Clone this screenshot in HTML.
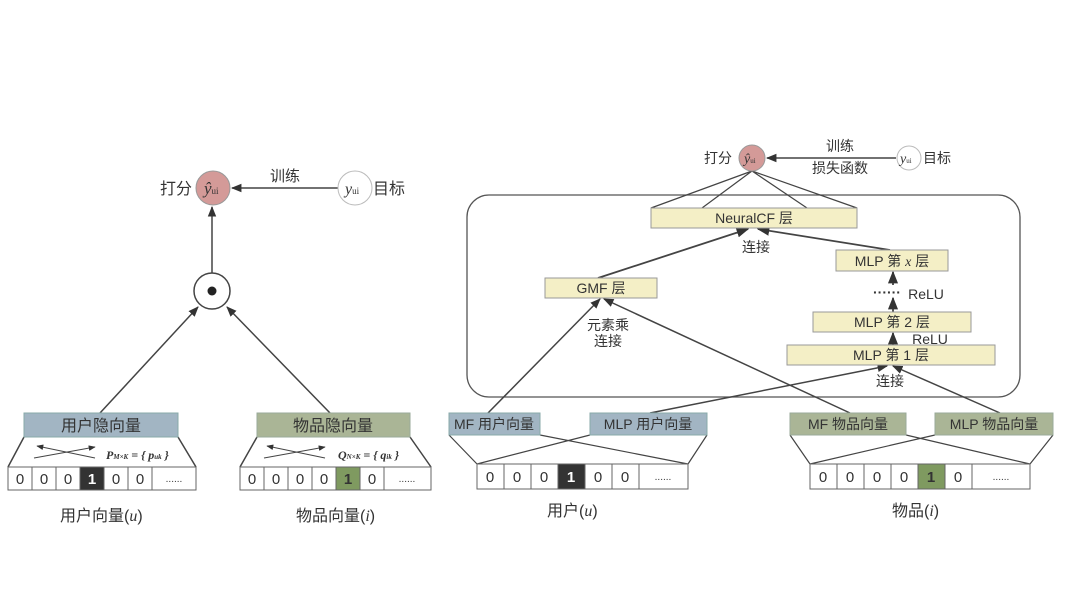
<!DOCTYPE html>
<html><head><meta charset="utf-8"><style>
html,body{margin:0;padding:0;background:#fff;}
svg{display:block;}
text{font-family:"Liberation Sans","Noto Sans CJK SC",sans-serif;fill:#333;}
.s{font-family:"Liberation Serif","Noto Serif CJK SC",serif;font-style:italic;}
</style></head><body>
<svg width="1080" height="608" viewBox="0 0 1080 608" xmlns="http://www.w3.org/2000/svg">
<defs>
<marker id="a" viewBox="0 0 10 10" refX="9" refY="5" markerWidth="7" markerHeight="7" orient="auto-start-reverse"><path d="M0,1 L10,5 L0,9 z" fill="#333"/></marker>
</defs>
<g stroke="#444" stroke-width="1.5" fill="none">
<!-- LEFT -->
<line x1="338" y1="188" x2="232" y2="188" marker-end="url(#a)"/>
<line x1="212" y1="273" x2="212" y2="207" marker-end="url(#a)"/>
<line x1="100" y1="413" x2="198" y2="307" marker-end="url(#a)"/>
<line x1="330" y1="413" x2="227" y2="307" marker-end="url(#a)"/>
<path d="M24,437 L8,467 M178,437 L196,467"/>
<path d="M240,467 L257,437 M410,437 L431,467"/>
<line x1="34" y1="458" x2="95" y2="447" stroke-width="1" marker-end="url(#a)"/>
<line x1="95" y1="458" x2="37" y2="446" stroke-width="1" marker-end="url(#a)"/>
<line x1="264" y1="458" x2="325" y2="447" stroke-width="1" marker-end="url(#a)"/>
<line x1="325" y1="458" x2="267" y2="446" stroke-width="1" marker-end="url(#a)"/>
</g>
<circle cx="213" cy="188" r="17" fill="#d49a98" stroke="#999"/>
<circle cx="355" cy="188" r="17" fill="#fff" stroke="#bbb"/>
<circle cx="212" cy="291" r="18" fill="#fff" stroke="#444" stroke-width="1.5"/>
<circle cx="212" cy="291" r="4.5" fill="#222"/>
<text x="160" y="194" font-size="16">打分</text>
<text x="204" y="194" font-size="17" class="s">ŷ<tspan font-size="9" font-style="normal">ui</tspan></text>
<text x="270" y="181" font-size="15">训练</text>
<text x="345" y="194" font-size="16" class="s">y<tspan font-size="9" font-style="normal">ui</tspan></text>
<text x="373" y="194" font-size="16">目标</text>
<rect x="24" y="413" width="154" height="24" fill="#a2b5c3" stroke="#8aa"/>
<text x="101" y="431" font-size="16" text-anchor="middle">用户隐向量</text>
<rect x="257" y="413" width="153" height="24" fill="#aab596" stroke="#9a9"/>
<text x="333" y="431" font-size="16" text-anchor="middle">物品隐向量</text>
<text x="106" y="459" font-size="12" class="s" font-weight="bold">P<tspan font-size="7">M×K</tspan> = { p<tspan font-size="7">uk</tspan> }</text>
<text x="338" y="459" font-size="12" class="s" font-weight="bold">Q<tspan font-size="7">N×K</tspan> = { q<tspan font-size="7">ik</tspan> }</text>
<g stroke="#666" stroke-width="1" fill="#fff">
<rect x="8" y="467" width="188" height="23"/>
<rect x="80" y="467" width="24" height="23" fill="#333"/>
<path d="M32,467V490M56,467V490M128,467V490M152,467V490"/>
<rect x="240" y="467" width="191" height="23"/>
<rect x="336" y="467" width="24" height="23" fill="#7f9a60"/>
<path d="M264,467V490M288,467V490M312,467V490M384,467V490"/>
</g>
<g font-size="15" text-anchor="middle">
<text x="20" y="484">0</text><text x="44" y="484">0</text><text x="68" y="484">0</text><text x="92" y="484" style="fill:#fff;font-weight:bold">1</text><text x="116" y="484">0</text><text x="140" y="484">0</text><text x="174" y="482" font-size="10">......</text>
<text x="252" y="484">0</text><text x="276" y="484">0</text><text x="300" y="484">0</text><text x="324" y="484">0</text><text x="348" y="484" style="font-weight:bold">1</text><text x="372" y="484">0</text><text x="407" y="482" font-size="10">......</text>
</g>
<text x="60" y="521" font-size="16">用户向量(<tspan class="s">u</tspan>)</text>
<text x="296" y="521" font-size="16">物品向量(<tspan class="s">i</tspan>)</text>

<!-- RIGHT -->
<rect x="467" y="195" width="553" height="202" rx="22" fill="none" stroke="#555" stroke-width="1.3"/>
<g stroke="#444" stroke-width="1.2" fill="none">
<path d="M752,171 L651,208 M752,171 L702,208 M752,171 L807,208 M752,171 L857,208"/>
<line x1="896" y1="158" x2="767" y2="158" stroke-width="1.5" marker-end="url(#a)"/>
<line x1="598" y1="278" x2="748" y2="229" stroke-width="1.8" marker-end="url(#a)"/>
<line x1="890" y1="250" x2="758" y2="229" stroke-width="1.8" marker-end="url(#a)"/>
<line x1="893" y1="285" x2="893" y2="272" stroke-width="1.8" marker-end="url(#a)"/>
<line x1="893" y1="312" x2="893" y2="298" stroke-width="1.8" marker-end="url(#a)"/>
<line x1="893" y1="345" x2="893" y2="333" stroke-width="1.8" marker-end="url(#a)"/>
<line x1="488" y1="413" x2="600" y2="299" stroke-width="1.5" marker-end="url(#a)"/>
<line x1="850" y1="413" x2="604" y2="299" stroke-width="1.5" marker-end="url(#a)"/>
<line x1="650" y1="413" x2="887" y2="366" stroke-width="1.5" marker-end="url(#a)"/>
<line x1="1000" y1="413" x2="893" y2="366" stroke-width="1.5" marker-end="url(#a)"/>
<path d="M449,435 L477,464 M540,435 L688,464 M590,435 L477,464 M707,435 L688,464"/>
<path d="M790,435 L810,464 M906,435 L1030,464 M935,435 L810,464 M1053,435 L1030,464"/>
</g>
<circle cx="752" cy="158" r="13" fill="#d49a98" stroke="#999"/>
<circle cx="909" cy="158" r="12" fill="#fff" stroke="#bbb"/>
<text x="704" y="163" font-size="14">打分</text>
<text x="744" y="163" font-size="14" class="s">ŷ<tspan font-size="7" font-style="normal">ui</tspan></text>
<text x="840" y="151" font-size="14" text-anchor="middle">训练</text>
<text x="840" y="173" font-size="14" text-anchor="middle">损失函数</text>
<text x="900" y="163" font-size="14" class="s">y<tspan font-size="7" font-style="normal">ui</tspan></text>
<text x="923" y="163" font-size="14">目标</text>
<g fill="#f4efc6" stroke="#999">
<rect x="651" y="208" width="206" height="20"/>
<rect x="545" y="278" width="112" height="20"/>
<rect x="836" y="250" width="112" height="21"/>
<rect x="813" y="312" width="158" height="20"/>
<rect x="787" y="345" width="208" height="20"/>
</g>
<g font-size="14" text-anchor="middle">
<text x="754" y="223">NeuralCF 层</text>
<text x="601" y="293">GMF 层</text>
<text x="892" y="266">MLP 第 <tspan class="s">x</tspan> 层</text>
<text x="892" y="327">MLP 第 2 层</text>
<text x="891" y="360">MLP 第 1 层</text>
<text x="756" y="252">连接</text>
<text x="608" y="330">元素乘</text>
<text x="608" y="346">连接</text>
<text x="890" y="386">连接</text>
<text x="926" y="299">ReLU</text>
<text x="930" y="344">ReLU</text>
</g>
<text x="873" y="297" font-size="14" font-weight="bold">······</text>
<rect x="449" y="413" width="91" height="22" fill="#a2b5c3" stroke="#8aa"/>
<rect x="590" y="413" width="117" height="22" fill="#a2b5c3" stroke="#8aa"/>
<rect x="790" y="413" width="116" height="22" fill="#aab596" stroke="#9a9"/>
<rect x="935" y="413" width="118" height="22" fill="#aab596" stroke="#9a9"/>
<g font-size="14" text-anchor="middle">
<text x="494" y="429">MF 用户向量</text>
<text x="648" y="429">MLP 用户向量</text>
<text x="848" y="429">MF 物品向量</text>
<text x="994" y="429">MLP 物品向量</text>
</g>
<g stroke="#666" stroke-width="1" fill="#fff">
<rect x="477" y="464" width="211" height="25"/>
<rect x="558" y="464" width="27" height="25" fill="#333"/>
<path d="M504,464V489M531,464V489M612,464V489M639,464V489"/>
<rect x="810" y="464" width="220" height="25"/>
<rect x="918" y="464" width="27" height="25" fill="#7f9a60"/>
<path d="M837,464V489M864,464V489M891,464V489M972,464V489"/>
</g>
<g font-size="15" text-anchor="middle">
<text x="490" y="482">0</text><text x="517" y="482">0</text><text x="544" y="482">0</text><text x="571" y="482" style="fill:#fff;font-weight:bold">1</text><text x="598" y="482">0</text><text x="625" y="482">0</text><text x="663" y="480" font-size="10">......</text>
<text x="823" y="482">0</text><text x="850" y="482">0</text><text x="877" y="482">0</text><text x="904" y="482">0</text><text x="931" y="482" style="font-weight:bold">1</text><text x="958" y="482">0</text><text x="1001" y="480" font-size="10">......</text>
</g>
<text x="547" y="516" font-size="16">用户(<tspan class="s">u</tspan>)</text>
<text x="892" y="516" font-size="16">物品(<tspan class="s">i</tspan>)</text>
</svg>
</body></html>
